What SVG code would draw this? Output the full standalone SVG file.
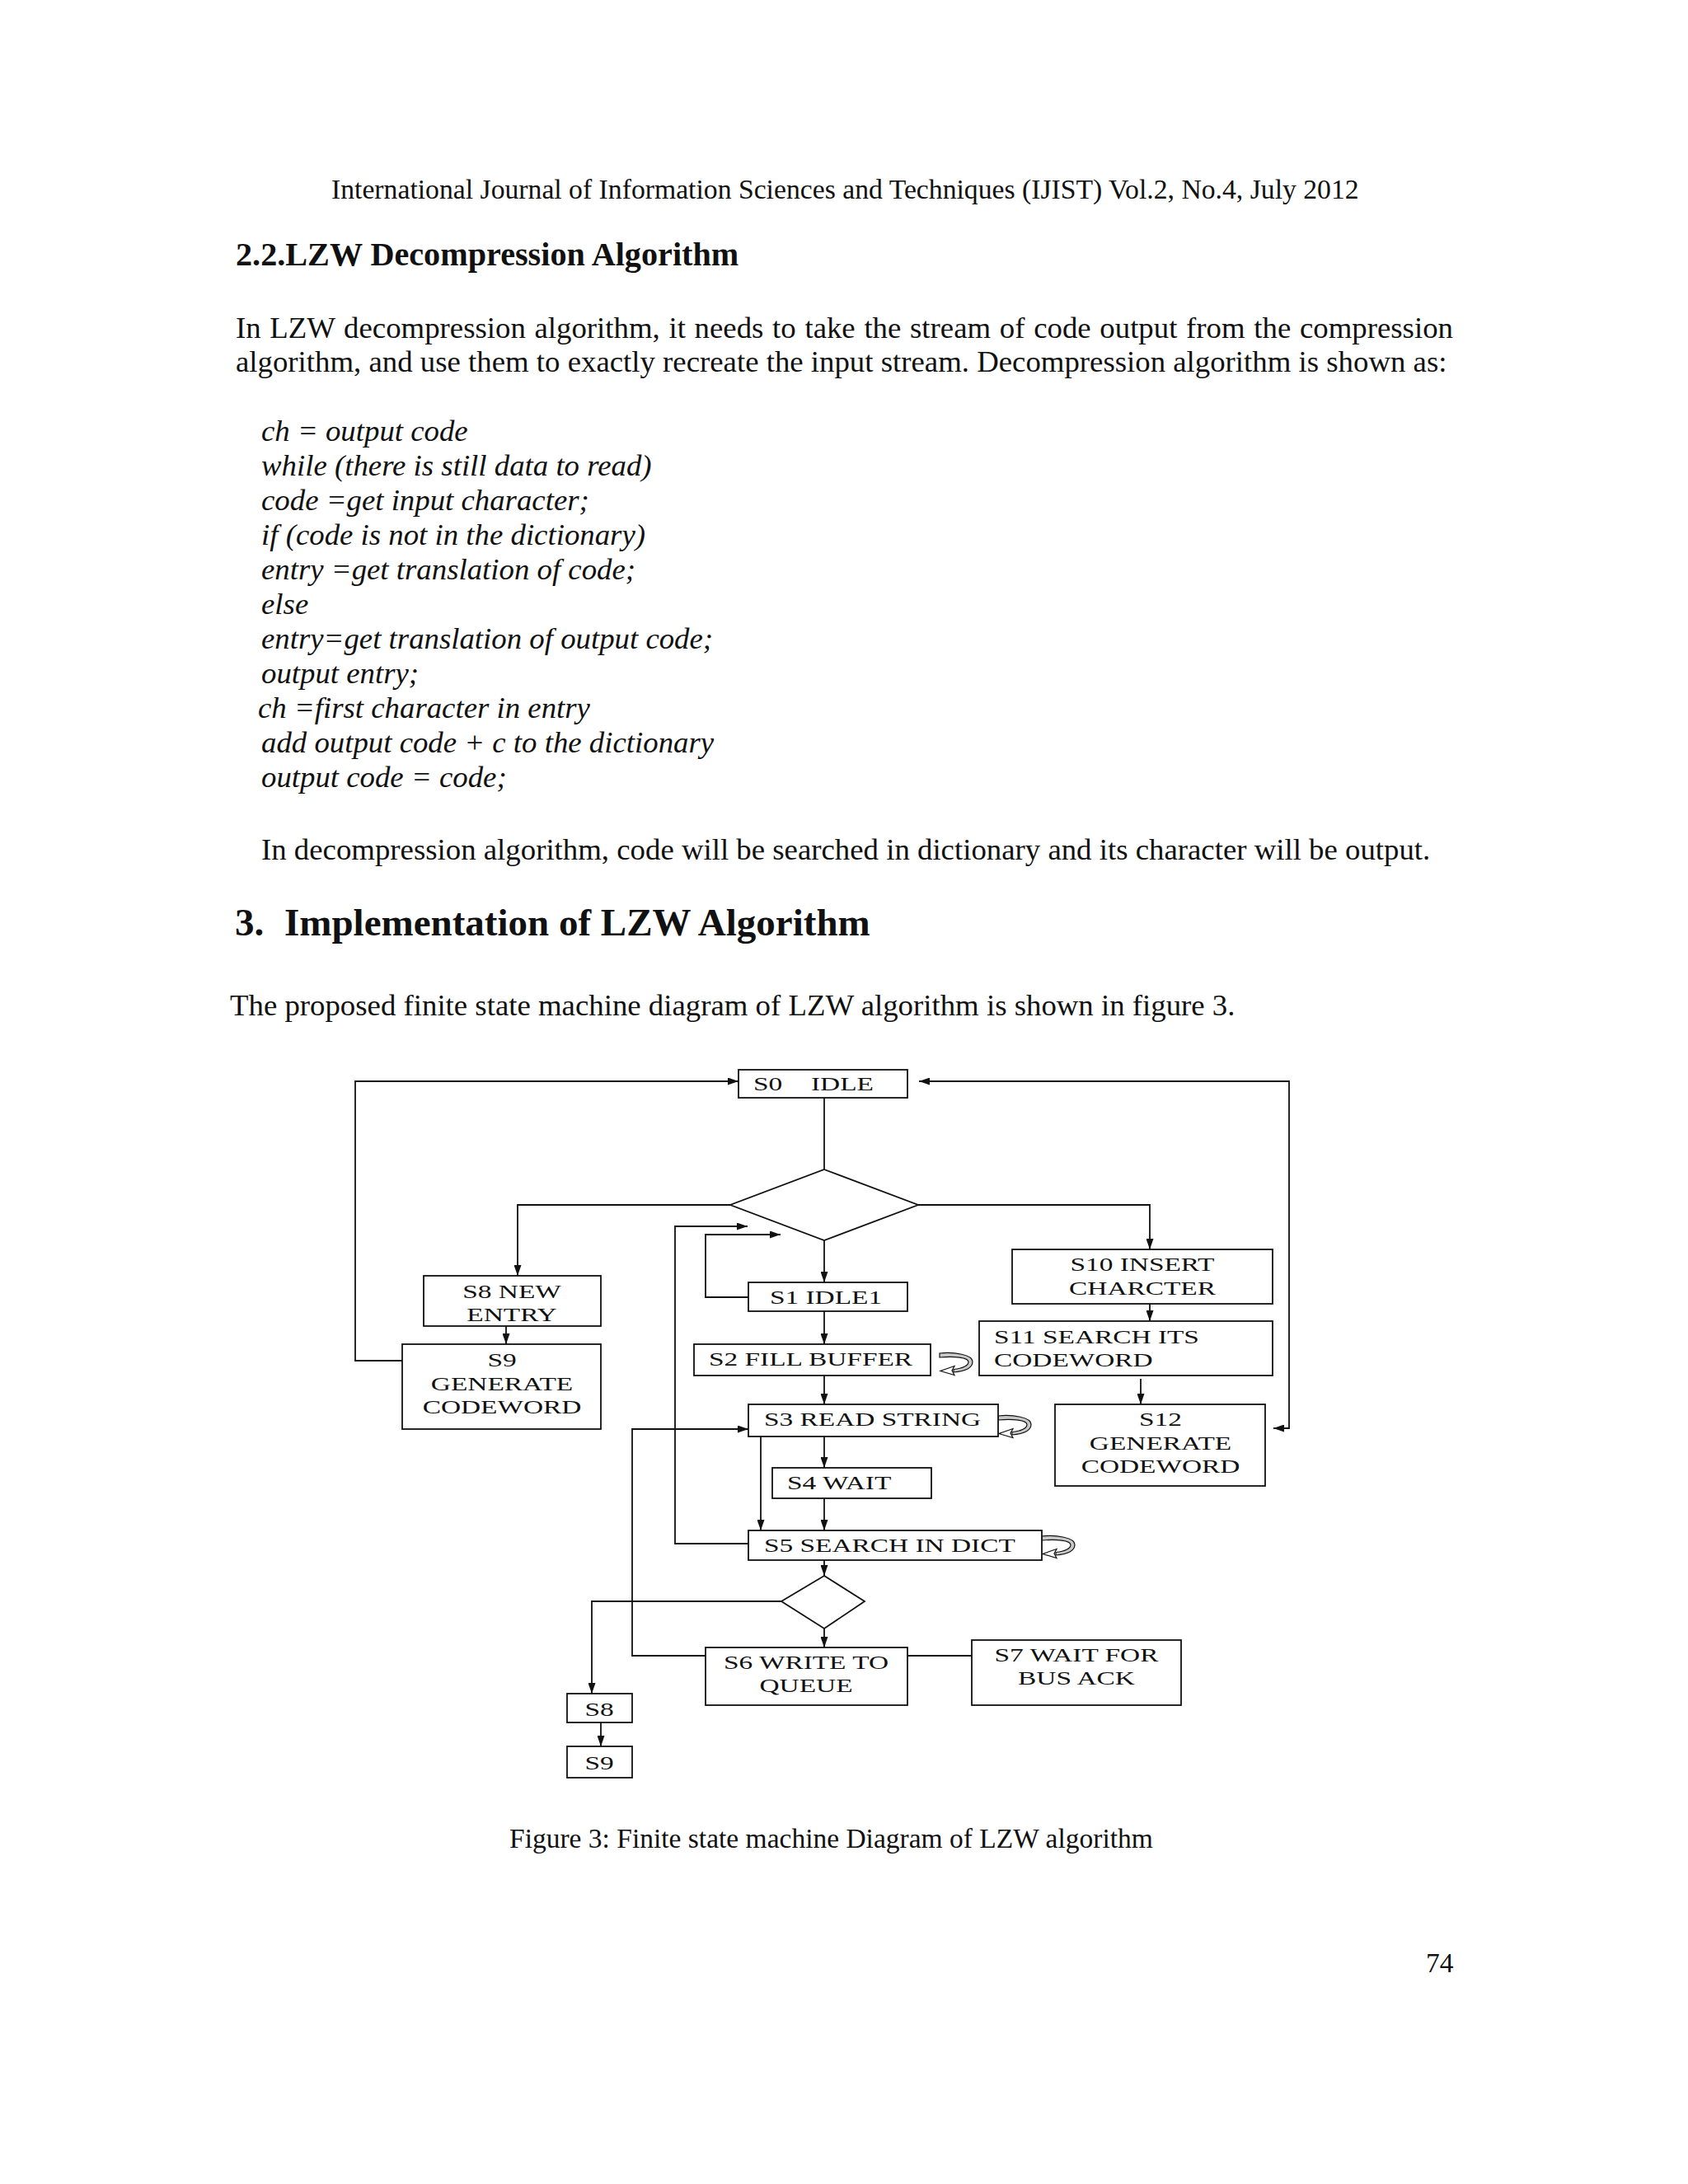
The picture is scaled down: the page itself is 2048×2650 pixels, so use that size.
<svg xmlns="http://www.w3.org/2000/svg" xmlns:xlink="http://www.w3.org/1999/xlink" width="2048" height="2650" viewBox="0 0 2048 2650">
<style>
.page{font-family:"Liberation Serif","Times New Roman",serif;fill:#111}
.hdr{font-size:33.7px}
.h2{font-size:40.2px;font-weight:bold}
.h1{font-size:47px;font-weight:bold}
.body{font-size:36.8px}
.cap{font-size:33.5px}
.code{font-size:36.8px;font-style:italic}
.box{fill:#fff;stroke:#111;stroke-width:1.8}
.dia{fill:#fff;stroke:#111;stroke-width:1.8}
.lbl{font-family:"Liberation Serif","Times New Roman",serif;font-size:24px;fill:#111}
.mid{text-anchor:middle}
.conn{fill:none;stroke:#111;stroke-width:1.8}
.arr{marker-end:url(#ah)}
</style>
<defs>
<marker id="ah" viewBox="0 0 13 9" refX="13" refY="4.5" markerWidth="13" markerHeight="9" markerUnits="userSpaceOnUse" orient="auto-start-reverse">
<path d="M0,0 L13,4.5 L0,9 Z" fill="#111"/>
</marker>
<g id="loop">
<path d="M0,1 C18,-1 40,3 40,11 C40,19 30,23 17,24 L17,20.5 C28,19.5 35,16 35,11.5 C35,6 18,4.5 0,6 Z" fill="#c8c8c8" stroke="#111" stroke-width="1.2"/>
<path d="M18,16.5 L1,22.5 L18,27.5 L15,22 Z" fill="#fff" stroke="#111" stroke-width="1.2"/>
</g>
</defs>
<rect width="2048" height="2650" fill="#fff"/>

<g id="page-text" class="page">
<text class="hdr" x="402" y="241">International Journal of Information Sciences and Techniques (IJIST) Vol.2, No.4, July 2012</text>
<text class="h2" x="286" y="322">2.2.LZW Decompression Algorithm</text>
<text class="body" x="286" y="410" word-spacing="1.5">In LZW decompression algorithm, it needs to take the stream of code output from the compression</text>
<text class="body" x="286" y="451">algorithm, and use them to exactly recreate the input stream. Decompression algorithm is shown as:</text>
<text class="code" x="317" y="535">ch = output code</text>
<text class="code" x="317" y="577">while (there is still data to read)</text>
<text class="code" x="317" y="619">code =get input character;</text>
<text class="code" x="317" y="661">if (code is not in the dictionary)</text>
<text class="code" x="317" y="703">entry =get translation of code;</text>
<text class="code" x="317" y="745">else</text>
<text class="code" x="317" y="787">entry=get translation of output code;</text>
<text class="code" x="317" y="829">output entry;</text>
<text class="code" x="313" y="871">ch =first character in entry</text>
<text class="code" x="317" y="913">add output code + c to the dictionary</text>
<text class="code" x="317" y="955">output code = code;</text>
<text class="body" x="317" y="1043">In decompression algorithm, code will be searched in dictionary and its character will be output.</text>
<text class="h1" y="1135"><tspan x="285">3.</tspan><tspan x="345">Implementation of LZW Algorithm</tspan></text>
<text class="body" x="279" y="1232">The proposed finite state machine diagram of LZW algorithm is shown in figure 3.</text>
<text class="cap" x="618" y="2242">Figure 3: Finite state machine Diagram of LZW algorithm</text>
<text class="cap" x="1730" y="2393">74</text>
</g>

<g id="connectors">
<path class="conn arr" d="M488,1651 H431 V1312 H896"/>
<path class="conn" d="M1000,1332 V1419"/>
<path class="conn arr" d="M1545,1733 H1564 V1312 H1115" style="marker-start:url(#ah)"/>
<path class="conn arr" d="M886,1462 H628 V1548"/>
<path class="conn arr" d="M1114,1462 H1395 V1516"/>
<path class="conn arr" d="M1000,1505 V1556"/>
<path class="conn arr" d="M908,1574 H856 V1498 H947"/>
<path class="conn arr" d="M908,1873 H819 V1488 H907"/>
<path class="conn arr" d="M1000,1591 V1631"/>
<path class="conn arr" d="M1000,1669 V1704"/>
<path class="conn arr" d="M1000,1743 V1781"/>
<path class="conn arr" d="M923,1743 V1857"/>
<path class="conn arr" d="M1000,1818 V1857"/>
<path class="conn arr" d="M1000,1893 V1912"/>
<path class="conn arr" d="M948,1943 H718 V2055"/>
<path class="conn arr" d="M1000,1976 V1999"/>
<path class="conn arr" d="M856,2009 H767 V1734 H908"/>
<path class="conn" d="M1101,2009 H1179"/>
<path class="conn arr" d="M729,2088 V2119"/>
<path class="conn arr" d="M614,1609 V1631"/>
<path class="conn arr" d="M1395,1582 V1603"/>
<path class="conn arr" d="M1384,1673 V1704"/>
<use xlink:href="#loop" x="1140" y="1641"/>
<use xlink:href="#loop" x="1211" y="1717"/>
<use xlink:href="#loop" x="1264" y="1863"/>
</g>

<g id="S0">
<rect class="box" x="896" y="1298" width="205" height="34"/>
<text class="lbl" transform="translate(914,1323) scale(1.39,1)">S0</text>
<text class="lbl" transform="translate(984,1323) scale(1.39,1)">IDLE</text>
</g>
<g id="D1">
<polygon class="dia" points="1000,1419 1114,1462 1000,1505 886,1462"/>
</g>
<g id="S8a">
<rect class="box" x="514" y="1548" width="215" height="61"/>
<text class="lbl mid" transform="translate(621,1575) scale(1.39,1)">S8 NEW</text>
<text class="lbl mid" transform="translate(621,1603) scale(1.39,1)">ENTRY</text>
</g>
<g id="S9a">
<rect class="box" x="488" y="1631" width="241" height="103"/>
<text class="lbl mid" transform="translate(609,1658) scale(1.39,1)">S9</text>
<text class="lbl mid" transform="translate(609,1687) scale(1.39,1)">GENERATE</text>
<text class="lbl mid" transform="translate(609,1715) scale(1.39,1)">CODEWORD</text>
</g>
<g id="S1">
<rect class="box" x="908" y="1556" width="193" height="35"/>
<text class="lbl mid" transform="translate(1002,1582) scale(1.39,1)">S1 IDLE1</text>
</g>
<g id="S2">
<rect class="box" x="842" y="1631" width="287" height="38"/>
<text class="lbl" transform="translate(860,1657) scale(1.39,1)">S2 FILL BUFFER</text>
</g>
<g id="S3">
<rect class="box" x="908" y="1704" width="303" height="39"/>
<text class="lbl" transform="translate(927,1730) scale(1.39,1)">S3 READ STRING</text>
</g>
<g id="S4">
<rect class="box" x="937" y="1781" width="193" height="37"/>
<text class="lbl" transform="translate(955,1807) scale(1.39,1)">S4 WAIT</text>
</g>
<g id="S5">
<rect class="box" x="908" y="1857" width="356" height="36"/>
<text class="lbl" transform="translate(927,1883) scale(1.39,1)">S5 SEARCH IN DICT</text>
</g>
<g id="D2">
<polygon class="dia" points="1000,1912 1049,1943 1000,1976 948,1943"/>
</g>
<g id="S6">
<rect class="box" x="856" y="1999" width="245" height="70"/>
<text class="lbl mid" transform="translate(978,2025) scale(1.39,1)">S6 WRITE TO</text>
<text class="lbl mid" transform="translate(978,2053) scale(1.39,1)">QUEUE</text>
</g>
<g id="S7">
<rect class="box" x="1179" y="1990" width="254" height="79"/>
<text class="lbl mid" transform="translate(1306,2016) scale(1.39,1)">S7 WAIT FOR</text>
<text class="lbl mid" transform="translate(1306,2044) scale(1.39,1)">BUS ACK</text>
</g>
<g id="S8b">
<rect class="box" x="688" y="2055" width="79" height="35"/>
<text class="lbl mid" transform="translate(727,2082) scale(1.39,1)">S8</text>
</g>
<g id="S9b">
<rect class="box" x="688" y="2119" width="79" height="38"/>
<text class="lbl mid" transform="translate(727,2147) scale(1.39,1)">S9</text>
</g>
<g id="S10">
<rect class="box" x="1228" y="1516" width="316" height="66"/>
<text class="lbl mid" transform="translate(1386,1542) scale(1.39,1)">S10 INSERT</text>
<text class="lbl mid" transform="translate(1386,1571) scale(1.39,1)">CHARCTER</text>
</g>
<g id="S11">
<rect class="box" x="1188" y="1603" width="356" height="66"/>
<text class="lbl" transform="translate(1206,1630) scale(1.39,1)">S11 SEARCH ITS</text>
<text class="lbl" transform="translate(1206,1658) scale(1.39,1)">CODEWORD</text>
</g>
<g id="S12">
<rect class="box" x="1280" y="1704" width="255" height="99"/>
<text class="lbl mid" transform="translate(1408,1730) scale(1.39,1)">S12</text>
<text class="lbl mid" transform="translate(1408,1759) scale(1.39,1)">GENERATE</text>
<text class="lbl mid" transform="translate(1408,1787) scale(1.39,1)">CODEWORD</text>
</g>
</svg>
